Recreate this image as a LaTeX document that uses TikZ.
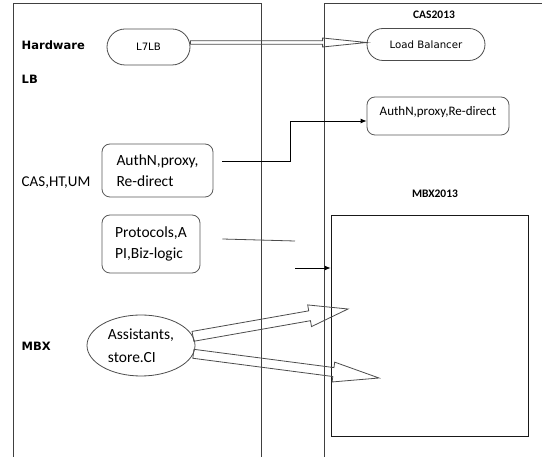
\documentclass[tikz,border=0pt]{standalone}
\usepackage{fontspec}
\setmainfont{Carlito}
\newfontfamily\thinsans{DejaVu Sans}
\usetikzlibrary{calc,positioning,shapes.geometric,arrows.meta}
\def\hollowarrow(#1)(#2)(#3:#4:#5){\coordinate (hb) at ($(#2)!#5pt!(#1)$);
  \draw[hollow] ($(#1)!#3pt!90:(#2)$) -- ($(hb)!#3pt!90:(#2)$) -- ($(hb)!#4pt!90:(#2)$) -- (#2)
    -- ($(hb)!#4pt!-90:(#2)$) -- ($(hb)!#3pt!-90:(#2)$) -- ($(#1)!#3pt!-90:(#2)$) -- cycle;}
\tikzset{
  panel/.style={draw=black!75, line width=0.8pt},
  sidelabel/.style={anchor=base west, inner sep=0pt, font=\fontsize{15}{18}\selectfont},
  heavylabel/.style={sidelabel, font=\thinsans\bfseries\fontsize{11.5}{14}\selectfont},
  title/.style={inner sep=0pt, font=\bfseries\fontsize{11.5}{13}\selectfont},
  pill/.style={draw=black!70, line width=0.8pt, inner sep=0pt, font=\thinsans\fontsize{10.2}{12}\selectfont},
  roundbox/.style={draw=black!65, line width=0.8pt, rounded corners=8pt, inner sep=0pt},
  boxtext/.style={align=left, font=\fontsize{15.5}{20.5}\selectfont},
  hollow/.style={draw=black!70, line width=0.8pt},
  link/.style={line width=0.8pt}
}
\begin{document}
\begin{tikzpicture}[x=1pt, y=-1pt]
		%%%%% START %%%%%
		\useasboundingbox (0,0) rectangle (542,457);
		
		\draw[panel] (13,457) -- (13,3) -- (261,3) -- (261,457);
		\draw[panel] (324,457) -- (324,3) -- (542,3);
		
		\node[heavylabel] (hw) at (21.5,50) {Hardware};
		\node[heavylabel] (hwlb) at (21.5,84) {LB};
		\node[sidelabel] (cashtum) at (21.5,186.5) {CAS,HT,UM};
		\node[heavylabel] (mbxl) at (21.5,351) {MBX};
		
		\node[title] (cas13) at (434,15) {CAS2013};
		\node[title] (mbx13) at (435,194) {MBX2013};
		
		\node[pill, rounded corners=18pt, minimum width=83pt, minimum height=36pt] (l7lb) at (148.5,47) {L7LB};
		\node[pill, rounded corners=16pt, minimum width=118pt, minimum height=32pt] (lb) at (426,44.5) {Load Balancer};
		
		\node[roundbox, boxtext, minimum width=111pt, minimum height=53pt] (casl) at (157.5,170.5) {AuthN,proxy,\\Re-direct};
		\node[roundbox, font=\fontsize{13}{15}\selectfont, text height=9pt, text depth=10pt, minimum width=142pt, minimum height=38pt] (casr) at (438,116) {AuthN,proxy,Re-direct};
		\node[roundbox, boxtext, minimum width=98pt, minimum height=58pt] (proto) at (151,244) {Protocols,A\\PI,Biz-logic};
		\node[ellipse, draw=black!70, line width=0.8pt, inner sep=0pt, boxtext, font=\fontsize{15.5}{22.5}\selectfont, minimum width=108pt, minimum height=61pt] (asst) at (141,345.5) {Assistants,\\store.CI};
		\node[draw=black!90, line width=0.8pt, minimum width=197pt, minimum height=221pt] (mbx) at (429.5,325.5) {};
		
		% connectors
		\coordinate (l7out) at ([yshift=4.5pt]l7lb.east);
		\coordinate (lbin) at ([yshift=2pt]lb.west);
		\hollowarrow(l7out)(lbin)(1.7:4.5:44)
		
		\draw[link, -{Latex[length=6pt,width=5pt]}] ($(casl.east)+(9,-9.5)$) -- ++(68,0) |- ([yshift=-5pt]casr.west);
		
		\coordinate (protoend) at (295,241);
		\draw[link, black!70] ($(proto.east)+(22,-5)$) -- (protoend);
		\coordinate (mbxin) at (295,268);
		\draw[link, -{Latex[length=6pt,width=5pt]}] (mbxin) -- (mbxin -| mbx.west);
		
		\coordinate (asttipa) at (348,309);
		\coordinate (asttipb) at (379,378);
		\hollowarrow(asst.10)(asttipa)(5:11:39)
		\hollowarrow(asst.-9)(asttipb)(4.5:10:46)
		
		%%%%% END %%%%%
	\end{tikzpicture}
\end{document}
